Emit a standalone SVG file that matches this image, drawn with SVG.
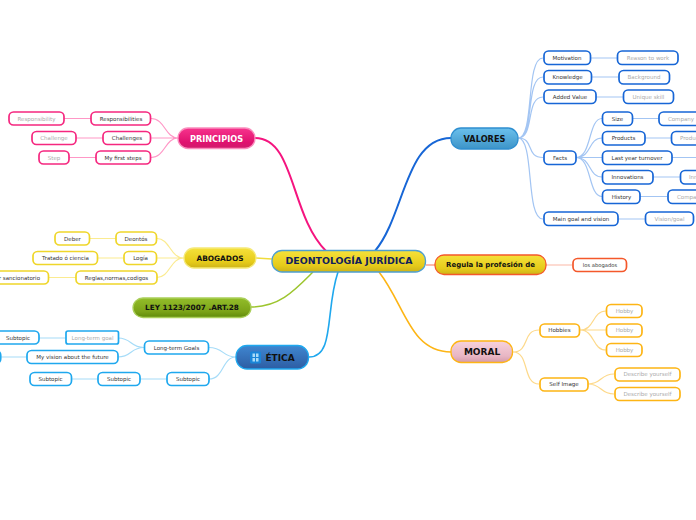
<svg xmlns="http://www.w3.org/2000/svg" width="696" height="520" viewBox="0 0 696 520">
<style>
text{font-family:"DejaVu Sans","Liberation Sans",sans-serif;text-anchor:middle;dominant-baseline:central}
.n rect{fill:#fff;stroke-width:1.7}
.n text{font-size:5.5px;fill:#333}
.n.g text{fill:#aaa}
.m text{font-size:7.8px;font-weight:bold;fill:#111}
.m rect{stroke-width:1.3}
.pink rect{stroke:#f5277f}.yel rect{stroke:#efd62a}.blu rect{stroke:#1766d6}.sky rect{stroke:#1fa8ee}.org rect{stroke:#fdb515}.red rect{stroke:#f4582b}
#connectors path{fill:none}
.c1{stroke:#ff97c6;stroke-width:1.2}.c2{stroke:#fbeb90;stroke-width:1.2}.c3{stroke:#a3c5f3;stroke-width:1.2}.c4{stroke:#a6dcf8;stroke-width:1.2}.c5{stroke:#fdd98a;stroke-width:1.2}.c6{stroke:#fcc4b5;stroke-width:1.2}
</style>
<defs>
<linearGradient id="gp" x1="0" y1="0" x2="0" y2="1"><stop offset="0" stop-color="#f7348d"/><stop offset=".7" stop-color="#e0116f"/><stop offset="1" stop-color="#cf1b6c"/></linearGradient>
<linearGradient id="gy" x1="0" y1="0" x2="0" y2="1"><stop offset="0" stop-color="#f5e13a"/><stop offset=".7" stop-color="#e6cb1a"/><stop offset="1" stop-color="#cdb318"/></linearGradient>
<linearGradient id="gg" x1="0" y1="0" x2="0" y2="1"><stop offset="0" stop-color="#93bd2a"/><stop offset=".7" stop-color="#7ba318"/><stop offset="1" stop-color="#5f8a0a"/></linearGradient>
<linearGradient id="gb" x1="0" y1="0" x2="0" y2="1"><stop offset="0" stop-color="#3f86d0"/><stop offset="1" stop-color="#2d5da3"/></linearGradient>
<linearGradient id="gv" x1="0" y1="0" x2="0" y2="1"><stop offset="0" stop-color="#6bc0ec"/><stop offset="1" stop-color="#3d94c8"/></linearGradient>
<linearGradient id="gm" x1="0" y1="0" x2="0" y2="1"><stop offset="0" stop-color="#f7d2dc"/><stop offset=".7" stop-color="#e8b6c4"/><stop offset="1" stop-color="#d39aaa"/></linearGradient>
</defs>
<g id="connectors">
<path d="M255 138C295 138 290 215 326 251" stroke="#f5147f" stroke-width="2"/>
<path d="M451 138C405 138 405 215 375 251" stroke="#1766d6" stroke-width="2"/>
<path d="M309 357C335 357 325 310 338 272" stroke="#1fa8ee" stroke-width="1.6"/>
<path d="M451 352C410 352 405 305 379 272" stroke="#fdb515" stroke-width="1.6"/>
<path d="M251 307C280 307 295 290 313 272" stroke="#9dc52e" stroke-width="1.5"/>
<path d="M256 258L272 259" stroke="#f0dc3c" stroke-width="1.5"/>
<path d="M426 265L435 265" stroke="#fba08e" stroke-width="1.5"/>
<g class="c1"><path d="M64 118.500H91M76 138H103M69 157.500H96"/><path d="M151 118.500C165 118.500 165 138 178 138M151 138H178M151 157.500C165 157.500 165 138 178 138"/></g>
<g class="c2"><path d="M89 238.500H116M97 258H124M49 277.500H76"/><path d="M157 238.500C170 238.500 170 258 184 258M157 258H184M157 277.500C170 277.500 170 258 184 258"/></g>
<g class="c3"><path d="M590 58H617M591 77H618M596 97H623M632 118.500H659M645 138H671M672 157.500H696M653 177H680M640 196.500H667M618 219H645"/>
<path d="M518 138C535 138 525 58 543 58M518 138C535 138 525 77 543 77M518 138C535 138 525 97 543 97M518 138C535 138 525 157.500 543 157.500M518 138C535 138 525 219 543 219"/>
<path d="M576 157.500C592 157.500 588 118.500 602 118.500M576 157.500C592 157.500 588 138 602 138M576 157.500H602M576 157.500C592 157.500 588 177 602 177M576 157.500C592 157.500 588 196.500 602 196.500"/></g>
<g class="c4"><path d="M39 338H66M0 357H27M71 379H98M140 379H167"/><path d="M118 338C132 338 130 347.500 144 347.500M118 357C132 357 130 347.500 144 347.500M209 347.500C224 347.500 222 357 236 357M209 379C224 379 222 357 236 357"/></g>
<g class="c5"><path d="M513 352C530 352 522 330 539 330M513 352C530 352 522 384 539 384"/><path d="M580 330C595 330 592 311 606 311M580 330H606M580 330C595 330 592 350 606 350M588 384C602 384 600 374 614 374M588 384C602 384 600 394 614 394"/></g>
<path class="c6" d="M546 265H572"/>
</g>

<g id="central" class="m"><rect x="272" y="250.500" width="153.500" height="21.500" rx="10" fill="url(#gy)" stroke="#4f9fd0" stroke-width="1.500"/><text x="349" y="260.500" style="font-size:9.400px;fill:#10205c">DEONTOLOGÍA JURÍDICA</text></g>

<g id="principios" class="m"><rect x="178" y="128" width="77" height="20.500" rx="10" fill="url(#gp)" stroke="#fa8dbd"/><text x="216.500" y="138.500" style="fill:#fff;font-size:8.200px">PRINCIPIOS</text></g>
<g id="abogados" class="m"><rect x="184" y="248" width="72" height="20" rx="10" fill="url(#gy)" stroke="#f5e978"/><text x="220" y="258" style="font-size:7.400px">ABOGADOS</text></g>
<g id="ley" class="m"><rect x="133" y="298" width="118" height="19.500" rx="10" fill="url(#gg)" stroke="#aacf5a"/><text x="192" y="307.500" style="font-size:7.300px">LEY 1123/2007 .ART.28</text></g>
<g id="etica" class="m"><rect x="236" y="345.500" width="72.500" height="23.500" rx="11" fill="url(#gb)" stroke="#1fa8ee"/><rect x="250" y="351.500" width="11" height="12" rx="1.500" fill="#1a86d8"/><path d="M252.500 353.500h2.500v3.500h-2.500zM256 353.500h2.500v3.500h-2.500zM252.500 358h2.500v3.500h-2.500zM256 358h2.500v3.500h-2.500z" fill="#a9dcf7"/><text x="280" y="357.500" style="font-size:9px">ÉTICA</text></g>
<g id="regula" class="m"><rect x="435" y="255" width="111" height="19.500" rx="9" fill="url(#gy)" stroke="#f4582b"/><text x="490.500" y="264.500" style="font-size:7px">Regula la profesión de</text></g>
<g id="valores" class="m"><rect x="451" y="128" width="67" height="21" rx="10" fill="url(#gv)" stroke="#2f8fd0"/><text x="484.500" y="138.500" style="font-size:8.200px">VALORES</text></g>
<g id="moral" class="m"><rect x="451" y="341" width="61.500" height="21.500" rx="10" fill="url(#gm)" stroke="#fdb515"/><text x="482" y="352" style="font-size:9px">MORAL</text></g>

<g id="n1" class="n pink"><rect x="91" y="112" width="59.500" height="13" rx="4.500"/><text x="121" y="118.500">Responsibilities</text></g>
<g id="n2" class="n g pink"><rect x="9" y="112" width="55" height="13" rx="4.500"/><text x="36.500" y="118.500">Responsibility</text></g>
<g id="n3" class="n pink"><rect x="103" y="131.500" width="47.500" height="13" rx="4.500"/><text x="127" y="138">Challenges</text></g>
<g id="n4" class="n g pink"><rect x="32" y="131.500" width="44" height="13" rx="4.500"/><text x="54" y="138">Challenge</text></g>
<g id="n5" class="n pink"><rect x="96" y="151" width="54.500" height="13" rx="4.500"/><text x="123" y="157.500">My first steps</text></g>
<g id="n6" class="n g pink"><rect x="39" y="151" width="30" height="13" rx="4.500"/><text x="54" y="157.500">Step</text></g>

<g id="n7" class="n yel"><rect x="116" y="232" width="40.500" height="13" rx="4.500"/><text x="136" y="238.500">Deontós</text></g>
<g id="n8" class="n yel"><rect x="55" y="232" width="34.500" height="13" rx="4.500"/><text x="72.500" y="238.500">Deber</text></g>
<g id="n9" class="n yel"><rect x="124" y="251.500" width="32.500" height="13" rx="4.500"/><text x="140.500" y="258">Logía</text></g>
<g id="n10" class="n yel"><rect x="33" y="251.500" width="64.500" height="13" rx="4.500"/><text x="65.500" y="258">Tratado ó ciencia</text></g>
<g id="n11" class="n yel"><rect x="76" y="271" width="81" height="13" rx="4.500"/><text x="116.500" y="277.500">Reglas,normas,codigos</text></g>
<g id="n12" class="n yel"><rect x="-20" y="271" width="68.500" height="13" rx="4.500"/><text x="40" y="277.500" style="text-anchor:end">r sancionatorio</text></g>

<g id="n13" class="n sky"><rect x="144.500" y="341" width="64" height="13" rx="4.500"/><text x="176.500" y="347.500">Long-term Goals</text></g>
<g id="n14" class="n g sky"><rect x="66" y="331" width="52.500" height="13" rx="2"/><text x="92.500" y="338">Long-term goal</text></g>
<g id="n15" class="n sky"><rect x="-20" y="331" width="59" height="13" rx="4.500"/><text x="18" y="338">Subtopic</text></g>
<g id="n16" class="n sky"><rect x="27" y="350.500" width="91" height="13" rx="4.500"/><text x="72.500" y="357">My vision about the future</text></g>
<g id="n17" class="n sky"><rect x="-20" y="350.500" width="20.700" height="13" rx="4.500"/></g>
<g id="n18" class="n sky"><rect x="167" y="372.500" width="42" height="13" rx="4.500"/><text x="188" y="379">Subtopic</text></g>
<g id="n19" class="n sky"><rect x="98" y="372.500" width="42" height="13" rx="4.500"/><text x="119" y="379">Subtopic</text></g>
<g id="n20" class="n sky"><rect x="30" y="372.500" width="41.500" height="13" rx="4.500"/><text x="50.500" y="379">Subtopic</text></g>

<g id="n21" class="n red"><rect x="573" y="258.500" width="53.500" height="13" rx="4.500"/><text x="600" y="265" style="font-size:5.200px">los abogados</text></g>

<g id="n22" class="n blu"><rect x="544" y="51" width="46.500" height="13.500" rx="4.500"/><text x="567" y="58">Motivation</text></g>
<g id="n23" class="n g blu"><rect x="617.500" y="51" width="60.500" height="13.500" rx="4.500"/><text x="648" y="58">Reason to work</text></g>
<g id="n24" class="n blu"><rect x="544" y="70.500" width="47.500" height="13.500" rx="4.500"/><text x="567.500" y="77">Knowledge</text></g>
<g id="n25" class="n g blu"><rect x="619" y="70.500" width="50.500" height="13.500" rx="4.500"/><text x="644" y="77">Background</text></g>
<g id="n26" class="n blu"><rect x="544" y="90" width="52" height="13.500" rx="4.500"/><text x="570" y="97">Added Value</text></g>
<g id="n27" class="n g blu"><rect x="623.500" y="90" width="50" height="13.500" rx="4.500"/><text x="648.500" y="97">Unique skill</text></g>
<g id="n28" class="n blu"><rect x="544" y="151" width="32" height="13.500" rx="4.500"/><text x="560" y="157.500">Facts</text></g>
<g id="n29" class="n blu"><rect x="602.500" y="112" width="30" height="13.500" rx="4.500"/><text x="617.500" y="118.500">Size</text></g>
<g id="n30" class="n g blu"><rect x="659" y="112" width="60" height="13.500" rx="4.500"/><text x="681" y="118.500">Company</text></g>
<g id="n31" class="n blu"><rect x="602.500" y="131.500" width="42.500" height="13.500" rx="4.500"/><text x="623.500" y="138">Products</text></g>
<g id="n32" class="n g blu"><rect x="671.500" y="131.500" width="50" height="13.500" rx="4.500"/><text x="680" y="138" style="text-anchor:start">Products</text></g>
<g id="n33" class="n blu"><rect x="602.500" y="151" width="69.500" height="13.500" rx="4.500"/><text x="637" y="157.500">Last year turnover</text></g>
<g id="n34" class="n blu"><rect x="602.500" y="170.500" width="50.500" height="13.500" rx="4.500"/><text x="627.500" y="177">Innovations</text></g>
<g id="n35" class="n g blu"><rect x="680.500" y="170.500" width="50" height="13.500" rx="4.500"/><text x="689" y="177" style="text-anchor:start">Innovation</text></g>
<g id="n36" class="n blu"><rect x="602.500" y="190" width="37.500" height="13.500" rx="4.500"/><text x="621.500" y="196.500">History</text></g>
<g id="n37" class="n g blu"><rect x="668" y="190" width="60" height="13.500" rx="4.500"/><text x="677" y="196.500" style="text-anchor:start">Company</text></g>
<g id="n38" class="n blu"><rect x="544" y="212" width="74" height="13.500" rx="4.500"/><text x="581" y="219">Main goal and vision</text></g>
<g id="n39" class="n g blu"><rect x="645.500" y="212" width="48" height="13.500" rx="4.500"/><text x="669.500" y="219">Vision/goal</text></g>

<g id="n40" class="n org"><rect x="540" y="324" width="39.500" height="13" rx="4.500"/><text x="559.500" y="330">Hobbies</text></g>
<g id="n41" class="n g org"><rect x="606.500" y="304.500" width="35.500" height="13" rx="4.500"/><text x="624.500" y="311">Hobby</text></g>
<g id="n42" class="n g org"><rect x="606.500" y="324" width="35.500" height="13" rx="4.500"/><text x="624.500" y="330">Hobby</text></g>
<g id="n43" class="n g org"><rect x="606.500" y="343.500" width="35.500" height="13" rx="4.500"/><text x="624.500" y="350">Hobby</text></g>
<g id="n44" class="n org"><rect x="540" y="378" width="48" height="13" rx="4.500"/><text x="564" y="384">Self Image</text></g>
<g id="n45" class="n g org"><rect x="615" y="368" width="65" height="13" rx="4.500"/><text x="647.500" y="374">Describe yourself</text></g>
<g id="n46" class="n g org"><rect x="615" y="387.500" width="65" height="13" rx="4.500"/><text x="647.500" y="394">Describe yourself</text></g>
</svg>
